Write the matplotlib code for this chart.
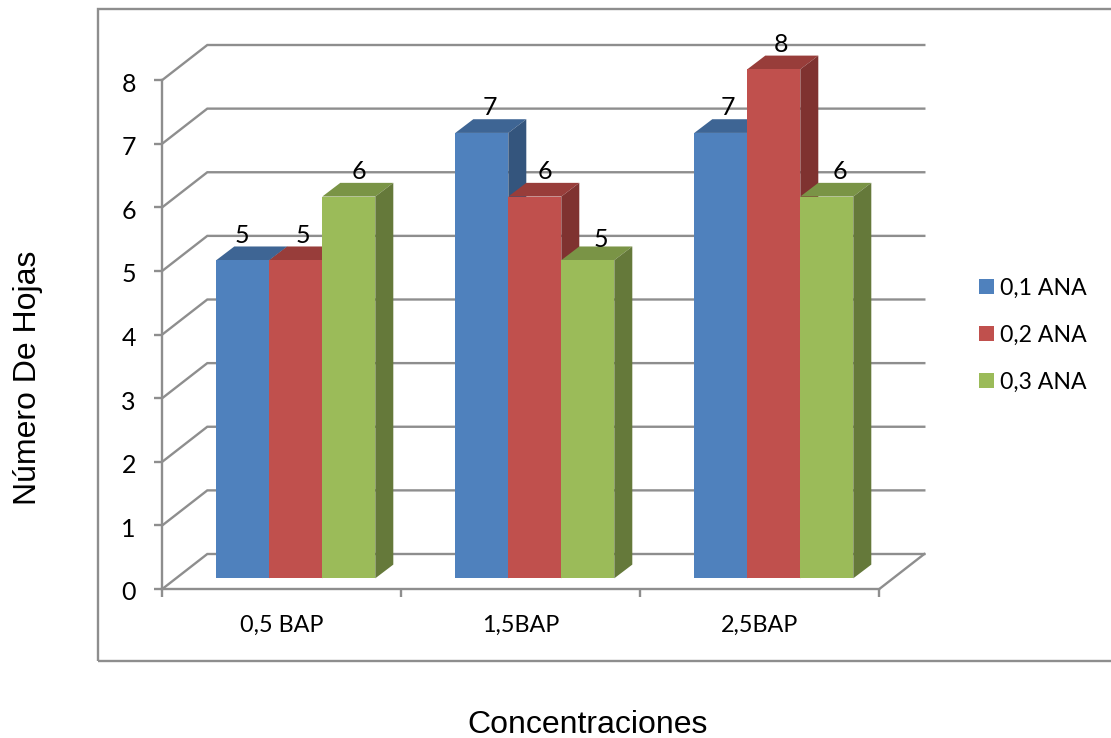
import matplotlib
matplotlib.use("Agg")
import matplotlib.pyplot as plt
from matplotlib.patches import Patch, Rectangle
from matplotlib.transforms import ScaledTranslation

categories = ["0,5 BAP", "1,5BAP", "2,5BAP"]
series_names = ["0,1 ANA", "0,2 ANA", "0,3 ANA"]
ana_01 = [5, 7, 7]
ana_02 = [5, 6, 8]
ana_03 = [6, 5, 6]
y_ticks = [0, 1, 2, 3, 4, 5, 6, 7, 8]

# desplazamiento de las etiquetas de datos en pixeles, por serie y categoria
label_nudge_x = [[-1, 8, 7], [7, 10, 7], [10, 13, 13]]
label_nudge_y = [[0, 0, 0], [0, 0, 0], [0, 4, 0]]

W, H = 1111, 738
GREY = "#8E8E8E"
LINE = 1.7
front_cols = ["#4F81BD", "#C0504D", "#9BBB59"]
top_cols = ["#3E6594", "#983D3A", "#7A9446"]
side_cols = ["#34557D", "#7F3230", "#65793A"]

plt.rcParams["font.family"] = ["Lato", "DejaVu Sans"]
fig = plt.figure(figsize=(W / 100, H / 100), dpi=100)

# ejes = plano frontal del grafico, en pixeles de la imagen
x0, x1, y0, y8 = 162.3, 879.3, 589.0, 80.0
ax = fig.add_axes([x0 / W, 1 - y0 / H, (x1 - x0) / W, (y0 - y8) / H])
ax.set_xlim(0, len(categories))
ax.set_ylim(0, 8)
ax.patch.set_visible(False)

px_x = len(categories) / (x1 - x0)
px_y = 8 / (y0 - y8)
depth_x, depth_y = 45 * px_x, 35 * px_y
bar_w = 53 * px_x
bar_dx, bar_dy = 18 * px_x, 13.7 * px_y
shift_x, floor = 14 * px_x, 10.7 * px_y

for v in y_ticks:
    ax.plot([0, depth_x, len(categories) + depth_x], [v, v + depth_y, v + depth_y],
            color=GREY, lw=LINE, clip_on=False, zorder=1, solid_joinstyle="miter")
ax.plot([len(categories), len(categories) + depth_x], [0, depth_y],
        color=GREY, lw=LINE, clip_on=False, zorder=1)

for i, values in enumerate([ana_01, ana_02, ana_03]):
    for c, v in enumerate(values):
        left = c + 0.5 + shift_x + (i - 1.5) * bar_w
        right = left + bar_w
        top = v + floor
        z = 3 + c * 3 + i * 0.1
        ax.fill([left, left + bar_dx, right + bar_dx, right], [top, top + bar_dy, top + bar_dy, top],
                color=top_cols[i], lw=0, clip_on=False, zorder=z)
        ax.fill([right, right + bar_dx, right + bar_dx, right], [floor, floor + bar_dy, top + bar_dy, top],
                color=side_cols[i], lw=0, clip_on=False, zorder=z)
        ax.bar(left, v, bar_w, bottom=floor, align="edge", color=front_cols[i], lw=0, clip_on=False, zorder=z)
        ax.text(left + bar_w / 2 + label_nudge_x[i][c] * px_x, top + (25 - label_nudge_y[i][c]) * px_y, str(v),
                ha="center", va="center", fontsize=18, color="black", zorder=30, clip_on=False)

for s in ["top", "right"]:
    ax.spines[s].set_visible(False)
for s in ["left", "bottom"]:
    ax.spines[s].set_color(GREY)
    ax.spines[s].set_linewidth(LINE)
    ax.spines[s].set_zorder(2)

ax.set_yticks(y_ticks)
ax.set_xticks(range(len(categories) + 1))
ax.set_xticklabels([])
ax.set_xticks([c + 0.5 for c in range(len(categories))], minor=True)
ax.set_xticklabels(categories, minor=True)
ax.tick_params(axis="y", color=GREY, width=LINE, length=6, pad=13, labelsize=18)
ax.tick_params(axis="x", which="major", color=GREY, width=LINE, length=6)
ax.tick_params(axis="x", which="minor", length=0, pad=18.5, labelsize=16.8)

# las etiquetas del eje y quedan 2 px mas abajo en el original
down = ScaledTranslation(0, -2 / 100, fig.dpi_scale_trans)
for label in ax.get_yticklabels():
    label.set_transform(label.get_transform() + down)

fig.add_artist(Rectangle((98 / W, 1 - 660.5 / H), 1100 / W, 651.5 / H, transform=fig.transFigure,
                         fill=False, edgecolor=GREY, lw=LINE, zorder=0))

handles = [Patch(color=col, lw=0) for col in front_cols]
fig.legend(handles, series_names, loc="center left", bbox_to_anchor=(979 / W, 1 - 335 / H),
           frameon=False, fontsize=16.6, borderpad=0, borderaxespad=0, labelspacing=1.13,
           handlelength=0.65, handleheight=0.65, handletextpad=0.27)

fig.text(28 / W, 1 - 378 / H, "Número De Hojas", rotation=90, ha="center", va="center",
         fontsize=23, family=["Liberation Sans", "DejaVu Sans"])
fig.text(588 / W, 1 - 725 / H, "Concentraciones", ha="center", va="center",
         fontsize=23, family=["Liberation Sans", "DejaVu Sans"])

fig.savefig("out.png", dpi=100)
